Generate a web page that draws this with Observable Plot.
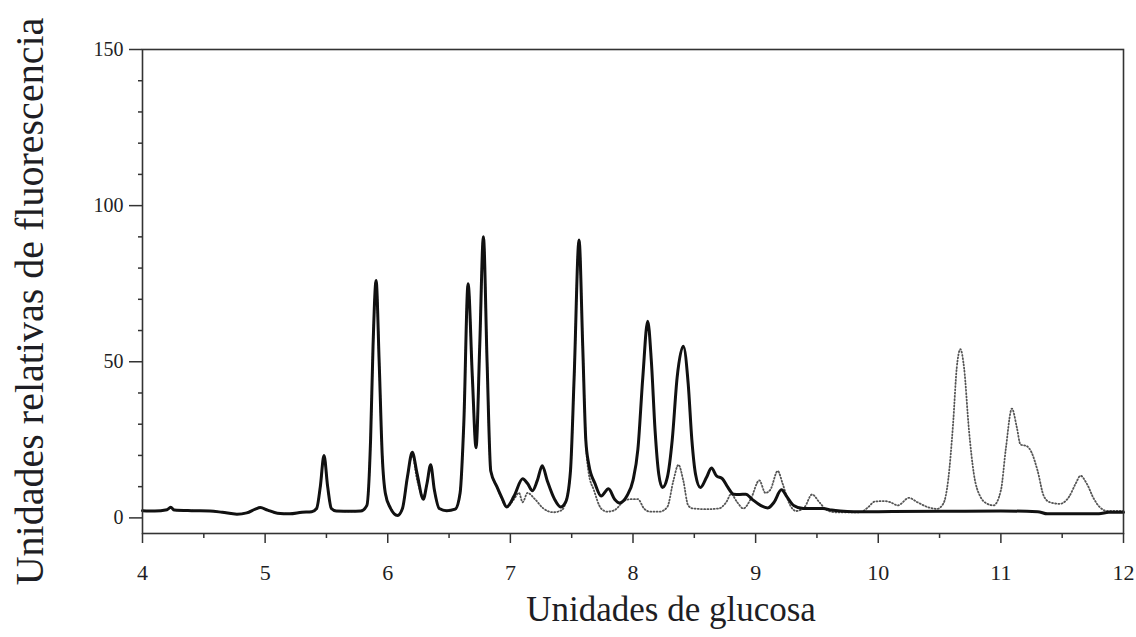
<!DOCTYPE html>
<html>
<head>
<meta charset="utf-8">
<script src="https://cdn.jsdelivr.net/npm/d3@7"></script>
<script src="https://cdn.jsdelivr.net/npm/@observablehq/plot@0.6"></script>
<style>
  html, body { margin: 0; padding: 0; background: #fff; }
  #chart svg { display: block; }
</style>
</head>
<body>
<div id="chart"></div>
<script>
// ---- data ----
const xLabel = "Unidades de glucosa";
const yLabel = "Unidades relativas de fluorescencia";
const xTicks = [4, 5, 6, 7, 8, 9, 10, 11, 12];
const xMinorTicks = [4.5, 5.5, 6.5, 7.5, 8.5, 9.5, 10.5, 11.5];
const yTicks = [0, 50, 100, 150];
const yMinorTicks = [10, 20, 30, 40, 60, 70, 80, 90, 110, 120, 130, 140];

// solid black trace
const blackX = [4.00,4.10,4.20,4.23,4.26,4.40,4.55,4.65,4.77,4.85,4.92,4.96,5.02,5.10,5.20,5.30,5.38,5.42,5.45,5.48,5.51,5.54,5.58,5.70,5.78,5.83,5.86,5.88,5.905,5.93,5.955,5.98,6.02,6.08,6.12,6.16,6.20,6.24,6.29,6.32,6.35,6.38,6.42,6.48,6.55,6.59,6.62,6.655,6.69,6.72,6.75,6.78,6.81,6.84,6.89,6.93,6.97,7.03,7.10,7.14,7.18,7.22,7.26,7.30,7.36,7.41,7.45,7.49,7.52,7.56,7.59,7.615,7.64,7.69,7.74,7.80,7.85,7.89,7.95,8.00,8.04,8.08,8.12,8.15,8.18,8.21,8.24,8.28,8.32,8.36,8.41,8.45,8.48,8.51,8.55,8.60,8.64,8.68,8.73,8.77,8.82,8.87,8.92,8.97,9.04,9.10,9.15,9.21,9.26,9.31,9.39,9.47,9.55,9.62,9.69,9.80,10.00,10.50,11.00,11.30,11.38,11.80,11.88,12.00];
const blackY = [2.3,2.2,2.6,3.4,2.5,2.3,2.2,1.8,1.2,1.6,2.8,3.3,2.5,1.5,1.3,1.8,2.0,3.0,10,20,10,3.0,2.2,2.1,2.2,4,25,55,76,50,20,8,3.3,0.8,3,13,21,14,6,11,17,9,3,2.3,2.8,8,30,75,45,22.5,55,90,50,15,10,6.5,3.5,7,12.5,11,8.7,12,16.7,12,6,3.5,5,15,45,89,55,25,17,11,7,9.3,6,4.8,7,12,22,45,63,50,28,14,9.7,13,25,45,55,43,25,14,9.7,13,16,13.5,12.5,10,7.6,7.5,7.6,6,4,3.2,5,9,6.5,4,3,3,3,2.5,2.2,2.0,2.0,2.1,2.2,2.0,1.3,1.3,1.8,1.8];

// dotted grey trace
const greyX = [4.00,4.10,4.20,4.23,4.26,4.40,4.55,4.65,4.77,4.85,4.92,4.96,5.02,5.10,5.20,5.30,5.38,5.42,5.45,5.48,5.51,5.54,5.58,5.70,5.78,5.83,5.86,5.88,5.905,5.93,5.955,5.98,6.02,6.08,6.12,6.16,6.20,6.24,6.29,6.32,6.35,6.38,6.42,6.48,6.55,6.59,6.62,6.655,6.69,6.72,6.75,6.78,6.81,6.84,6.89,6.93,6.97,7.03,7.07,7.10,7.14,7.20,7.27,7.35,7.42,7.45,7.49,7.52,7.56,7.59,7.615,7.64,7.68,7.74,7.79,7.85,7.93,7.98,8.04,8.09,8.14,8.22,8.28,8.33,8.37,8.41,8.45,8.49,8.60,8.70,8.76,8.80,8.85,8.90,8.96,9.03,9.08,9.12,9.18,9.22,9.27,9.33,9.40,9.46,9.52,9.58,9.65,9.85,9.92,9.97,10.05,10.10,10.16,10.25,10.32,10.40,10.48,10.53,10.57,10.61,10.64,10.67,10.70,10.74,10.78,10.83,10.89,10.94,11.00,11.04,11.09,11.13,11.16,11.21,11.25,11.30,11.35,11.40,11.48,11.56,11.61,11.65,11.70,11.76,11.81,11.87,12.00];
const greyY = [2.3,2.2,2.6,3.4,2.5,2.3,2.2,1.8,1.2,1.6,2.8,3.3,2.5,1.5,1.3,1.8,2.0,3.0,10,20,10,3.0,2.2,2.1,2.2,4,25,55,76,50,20,8,3.3,0.8,3,13,20,12,7,11,17,9,3,2.3,2.8,8,30,75,45,22.5,55,90,50,15,10,6,3.5,6,8,5,8,6,3,1.8,2.5,5,15,45,89,55,25,14,9,3,2,2.5,5.5,6,6,3,2,2,3.5,12,17,12,4,3,2.8,3,5,7.6,5,3,6,12,8,9,15,11,5,2.2,3.5,7.5,5,2.5,1.8,1.8,3.5,5.2,5.4,5,4,6.4,5,3.5,2.9,4.5,12,30,48,54,48,28,14,7,4.5,4,8.8,22,35,29,23.5,23,21,15,7,5,4.5,7,11,13.5,11,6,3.3,2.2,2.2];

const black = blackX.map((x, i) => ({x, y: blackY[i]}));
const grey = greyX.map((x, i) => ({x, y: greyY[i]}));

const textColor = "#1e1e24";

const chart = Plot.plot({
  width: 1136,
  height: 637,
  marginLeft: 142,
  marginRight: 13,
  marginTop: 49,
  marginBottom: 104,
  style: {fontFamily: "'Liberation Serif', serif", color: textColor, background: "#fff"},
  x: {domain: [4, 12]},
  y: {domain: [-5, 150]},
  marks: [
    Plot.line(grey, {x: "x", y: "y", curve: "monotone-x", stroke: "#555", strokeWidth: 1.8, strokeDasharray: "1,2.2", strokeLinecap: "round"}),
    Plot.line(black, {x: "x", y: "y", curve: "monotone-x", stroke: "#111", strokeWidth: 3, strokeLinejoin: "round"}),
    Plot.frame({stroke: "#333", strokeWidth: 1.6}),
    Plot.axisY({ticks: yTicks, tickSize: 13, tickPadding: 6, tickFormat: d => String(d), fontSize: 20, label: null, stroke: "#333", strokeWidth: 1.5}),
    Plot.axisY({ticks: yMinorTicks, tickSize: 4, text: null, label: null, stroke: "#333", strokeWidth: 1.5}),
    Plot.axisX({ticks: xTicks, tickSize: 10, tickPadding: 21, tickFormat: d => String(d), fontSize: 22, label: null, stroke: "#333", strokeWidth: 1.5}),
    Plot.axisX({ticks: xMinorTicks, tickSize: 5, text: null, label: null, stroke: "#333", strokeWidth: 1.5}),
    Plot.text([xLabel], {frameAnchor: "bottom", dy: 87, dx: 38, fontSize: 35, fill: textColor}),
    Plot.text([yLabel], {frameAnchor: "left", textAnchor: "middle", rotate: -90, dx: -112, dy: 10, fontSize: 40, fill: textColor})
  ]
});
document.getElementById("chart").appendChild(chart);
</script>
</body>
</html>
